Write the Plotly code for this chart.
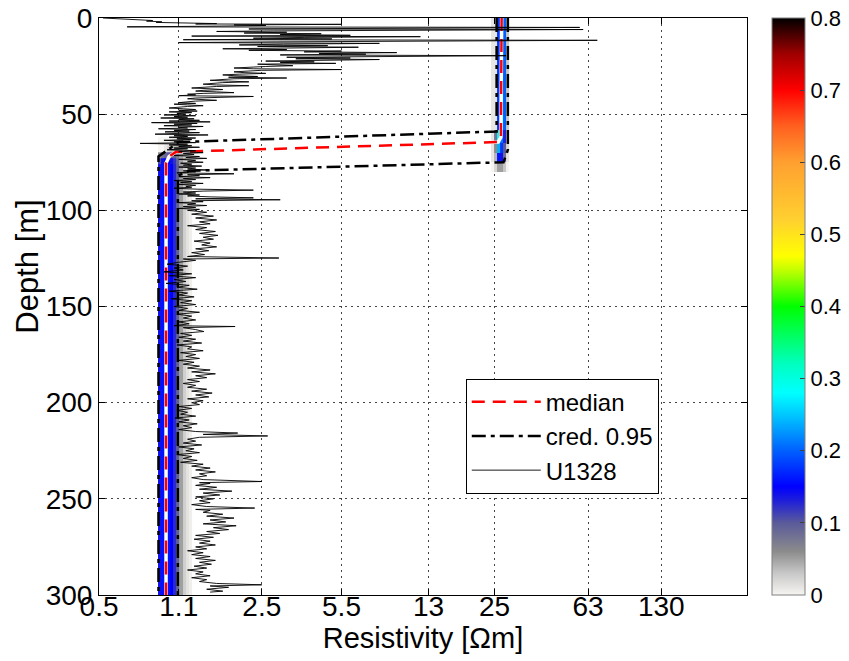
import plotly.graph_objects as go

# ---------------- data ----------------
x_tick_vals = [0.5, 1.1, 2.5, 5.5, 13, 25, 63, 130]
x_tick_text = ["0.5", "1.1", "2.5", "5.5", "13", "25", "63", "130"]
y_tick_vals = [0, 50, 100, 150, 200, 250, 300]
cbar_ticks = [0, 0.1, 0.2, 0.3, 0.4, 0.5, 0.6, 0.7, 0.8]
cbar_text = ["0", "0.1", "0.2", "0.3", "0.4", "0.5", "0.6", "0.7", "0.8"]

# posterior density, upper (resistive) layer band
upper_res_edges = [24.14, 24.87, 25.63, 26.4, 27.2, 28.0, 28.86]
upper_depth_edges = [0, 58, 65, 70, 75, 80]
upper_p_0_58 = [0.01, 0.01, 0.18, 0.28, 0.20, 0.03]
upper_p_58_65 = [0.01, 0.08, 0.28, 0.21, 0.13, 0.02]
upper_p_65_70 = [0.01, 0.06, 0.24, 0.18, 0.10, 0.02]
upper_p_70_75 = [0.01, 0.04, 0.16, 0.14, 0.08, 0.01]
upper_p_75_80 = [0.00, 0.02, 0.05, 0.05, 0.03, 0.00]

# posterior density, lower (conductive) layer band
lower_res_edges = [0.896, 0.925, 0.953, 0.982, 1.012, 1.043, 1.075,
                   1.108, 1.142, 1.177, 1.213, 1.25]
lower_depth_edges = [62, 66, 70, 73, 76, 300]
lower_p_62_66 = [0, 0, 0, 0, 0.005, 0.01, 0.015, 0.02, 0.015, 0.008, 0.003]
lower_p_66_70 = [0, 0, 0.01, 0.02, 0.03, 0.035, 0.04, 0.035, 0.02, 0.01, 0.004]
lower_p_70_73 = [0.06, 0.08, 0.09, 0.10, 0.10, 0.09, 0.07, 0.045, 0.025, 0.012, 0.004]
lower_p_73_76 = [0.11, 0.14, 0.15, 0.15, 0.14, 0.12, 0.09, 0.05, 0.025, 0.012, 0.004]
lower_p_76_300 = [0.14, 0.16, 0.17, 0.16, 0.15, 0.125, 0.095, 0.05, 0.025, 0.012, 0.004]

# median model
median_depth = [0, 58, 62, 64.5, 69.6, 72, 75.4, 300]
median_res = [26.8, 26.8, 26.6, 25.9, 1.07, 1.0, 0.97, 0.97]

# 95% credible bounds
cred_low_depth = [0, 59, 64.5, 72, 300]
cred_low_res = [25.5, 25.5, 1.10, 0.90, 0.90]
cred_high_depth = [0, 68.5, 75, 79.4, 82, 300]
cred_high_res = [28.5, 28.5, 27.3, 1.22, 1.09, 1.09]

# U1328 resistivity log (depth, resistivity) — digitised in segments
log_depth_0_22 = [
    0.0, 0.4, 0.8, 1.0, 1.3, 1.6, 2.0, 2.3, 2.6, 2.9, 3.1, 3.3, 3.6, 3.9, 4.3, 4.6,
    4.9, 5.3, 5.7, 6.0, 6.3, 6.7, 7.0, 7.4, 7.8, 8.2, 8.6, 9.0, 9.4, 9.7, 10.1, 10.5,
    10.9, 11.3, 11.6, 12.0, 12.4, 12.8, 13.2, 13.6, 14.0, 14.4, 14.8, 15.2, 15.6, 16.0,
    16.4, 16.8, 17.2, 17.6, 18.0, 18.4, 18.8, 19.2, 19.6, 20.0, 20.4, 20.8, 21.2, 21.6,
]
log_res_0_22 = [
    0.52, 0.62, 0.78, 0.72, 0.85, 0.80, 0.93, 0.88, 1.25, 1.60, 1.30, 5.5, 1.9, 2.6, 1.4, 0.66,
    58, 3.5, 2.2, 60, 4.0, 2.8, 1.6, 3.2, 2.1, 4.5, 3.0, 6.0, 1.25, 12, 3.8, 2.3,
    5.0, 1.15, 69, 4.2, 2.9, 1.1, 8.0, 3.1, 2.0, 4.8, 2.4, 6.5, 3.3, 1.7,
    3.2, 2.2, 5.5, 3.8, 9.5, 4.4, 7.0, 3.0, 28, 4.6, 3.2, 6.0, 3.5, 8.0,
]
log_depth_22_50 = [
    22.0, 22.4, 22.8, 23.2, 23.6, 24.0, 24.4, 24.8, 25.2, 25.6, 26.0, 26.4, 26.8, 27.2,
    27.6, 28.0, 28.4, 28.8, 29.2, 29.6, 30.0, 30.4, 30.8, 31.2, 31.6, 32.0, 32.4, 32.8,
    33.2, 33.6, 34.0, 34.4, 34.8, 35.2, 35.6, 36.0, 36.4, 36.8, 37.2, 37.6, 38.0, 38.4,
    38.8, 39.2, 39.6, 40.0, 40.4, 40.8, 41.2, 41.6, 42.0, 42.4, 42.8, 43.2, 43.6, 44.0,
    44.4, 44.8, 45.2, 45.6, 46.0, 46.4, 46.8, 47.2, 47.6, 48.0, 48.4, 48.8, 49.2, 49.6,
]
log_res_22_50 = [
    4.0, 2.6, 4.2, 3.0, 5.2, 2.4, 2.9, 3.4, 2.6, 2.0, 1.9, 2.3, 5.5, 2.5,
    2.2, 1.9, 2.1, 2.6, 2.0, 1.7, 1.9, 2.4, 1.8, 3.2, 1.9, 1.6, 1.5, 1.8,
    2.2, 1.7, 1.5, 1.4, 1.6, 2.2, 1.6, 1.3, 1.25, 1.5, 1.7, 1.4, 1.3, 1.6,
    1.9, 1.4, 1.2, 1.3, 1.1, 2.3, 1.5, 1.3, 1.2, 1.35, 1.6, 1.3, 1.15, 1.1,
    1.3, 1.05, 1.2, 1.4, 1.2, 1.05, 1.0, 1.15, 1.3, 1.1, 1.32, 1.0, 1.25, 1.08,
]
log_depth_50_100 = [
    50.0, 50.4, 50.8, 51.2, 51.6, 52.0, 52.4, 52.8, 53.2, 53.6, 54.0, 54.4, 54.8, 55.2,
    55.6, 56.0, 56.4, 56.8, 57.2, 57.6, 58.0, 58.4, 58.8, 59.2, 59.6, 60.0, 60.4, 60.8,
    61.2, 61.6, 62.0, 62.4, 62.8, 63.2, 63.6, 64.0, 64.4, 64.8, 65.2, 65.6, 66.0, 66.4,
    66.8, 67.2, 67.6, 68.0, 68.5, 69.0, 69.5, 70.0, 70.5, 71.0, 71.5, 72.0, 72.5, 73.0,
    73.5, 74.0, 74.5, 75.0, 75.5, 76.0, 76.5, 77.0, 77.5, 78.0, 78.5, 79.0, 79.5, 80.0,
    80.5, 81.0, 81.5, 82.0, 82.5, 83.0, 83.5, 84.0, 84.5, 85.0, 85.5, 86.0, 86.5, 87.0,
    87.5, 88.0, 88.5, 89.0, 89.5, 90.0, 90.5, 91.0, 91.5, 92.0, 92.5, 93.0, 93.5, 94.0,
    94.5, 95.0, 95.5, 96.0, 96.5, 97.0, 97.5, 98.0, 98.5, 99.0, 99.5, 100.0,
]
log_res_50_100 = [
    1.18, 0.95, 1.3, 1.05, 1.2, 0.92, 1.28, 1.1, 1.35, 1.0, 1.5, 0.84, 1.32, 1.05,
    1.25, 0.95, 1.4, 1.1, 1.2, 0.9, 1.3, 1.05, 1.22, 0.96, 1.35, 1.1, 0.87, 1.47,
    1.05, 1.2, 1.0, 1.3, 1.08, 1.25, 0.95, 1.15, 1.05, 1.3, 0.75, 1.2, 1.0, 1.25,
    1.1, 1.35, 1.05, 1.2, 0.98, 1.3, 1.1, 1.4, 1.15, 1.28, 1.05, 1.35, 1.18, 1.45,
    1.1, 1.3, 1.2, 1.4, 1.12, 1.25, 1.15, 1.38, 1.1, 1.3, 1.2, 1.45, 1.15, 1.3,
    1.08, 1.9, 1.2, 1.35, 1.1, 1.5, 1.15, 1.3, 1.05, 1.25, 1.12, 1.4, 1.1, 1.3,
    1.18, 1.25, 1.05, 1.32, 2.3, 1.4, 1.15, 1.3, 1.1, 1.35, 1.2, 1.5, 2.3, 1.3,
    3.0, 1.25, 1.4, 1.1, 1.3, 1.2, 1.45, 1.15, 1.3, 1.1, 1.35, 1.2,
]
log_depth_100_200 = [
    101, 102, 103, 104, 105, 106, 107, 108, 109, 110, 111, 112, 113, 114, 115, 116,
    117, 118, 119, 120, 121, 122, 123, 124, 124.8, 125.3, 126,
    127, 128, 129, 130, 131, 132, 133, 134, 135, 136, 137, 138, 139, 140, 141, 142,
    143, 144, 145, 146, 147, 148, 149, 150, 151, 152, 153, 154, 155, 156, 157, 158,
    159, 160, 160.4, 161, 162, 163, 164, 165,
    166, 167, 168, 169, 170, 171, 172, 173, 174, 175, 176, 177, 178, 179, 180,
    181, 182, 183, 184, 185, 186, 187, 188, 189, 190, 191, 192,
    193, 194, 195, 196, 197, 198, 199, 200, 201,
]
log_res_100_200 = [
    1.45, 1.25, 1.55, 1.3, 1.6, 1.35, 1.5, 1.2, 1.45, 1.3, 1.58, 1.35, 1.62, 1.4, 1.55, 1.28,
    1.5, 1.38, 1.6, 1.3, 1.48, 1.25, 1.42, 1.2, 2.96, 1.15, 1.3,
    1.1, 0.98, 1.2, 1.05, 1.15, 0.95, 1.25, 1.0, 1.3, 1.05, 1.18, 0.97, 1.22, 1.08, 1.32, 1.0,
    1.2, 1.1, 1.28, 1.02, 1.25, 1.12, 1.3, 1.05, 1.2, 1.1, 1.35, 1.08, 1.25, 1.15, 1.3, 1.1,
    1.22, 1.05, 1.92, 1.15, 1.3, 1.41, 1.12, 1.25,
    1.1, 1.3, 1.15, 1.38, 1.08, 1.25, 1.2, 1.4, 1.12, 1.3, 1.18, 1.35, 1.1, 1.28, 1.15,
    1.35, 1.2, 1.5, 1.25, 1.58, 1.3, 1.45, 1.2, 1.35, 1.15, 1.3, 1.2,
    1.45, 1.25, 1.53, 1.3, 1.48, 1.2, 1.4, 1.25, 1.35,
]
log_depth_200_300 = [
    202, 203, 204, 205, 206, 207, 208, 209, 210, 211, 212, 213, 214,
    215, 215.8, 216.5, 217.3, 218, 219,
    220, 221, 222, 223, 224, 225, 226, 227, 228, 229, 230, 231, 232, 233, 234, 235,
    236, 237, 238, 239, 240, 241, 241.6, 242,
    243, 244, 245, 246, 247, 248, 249, 250, 251, 252, 253, 254, 254.8, 255.5, 256,
    257, 258, 259, 260, 261, 262, 263, 264, 265, 266, 267, 268,
    269, 270, 271, 272, 273, 274, 275, 276, 277, 278,
    279, 280, 281, 282, 283, 284, 285, 286, 287, 288, 289, 290, 291, 292, 293, 294,
    294.7, 295.3, 296, 297, 298, 298.5,
]
log_res_200_300 = [
    1.1, 1.25, 1.08, 1.2, 1.12, 1.3, 1.06, 1.22, 1.1, 1.32, 1.15, 1.25, 1.1,
    1.3, 1.97, 1.4, 2.65, 1.35, 1.2,
    1.3, 1.15, 1.38, 1.1, 1.28, 1.18, 1.35, 1.08, 1.25, 1.15, 1.32, 1.12, 1.4, 1.25, 1.5, 1.3,
    1.58, 1.35, 1.45, 1.25, 1.4, 2.5, 1.35, 1.5,
    1.3, 1.6, 1.35, 1.86, 1.4, 1.65, 1.3, 1.55, 1.35, 1.5, 1.25, 1.45, 2.33, 1.3, 1.5,
    1.4, 1.7, 1.45, 1.9, 1.5, 1.75, 1.4, 1.94, 1.55, 1.8, 1.45, 1.65,
    1.3, 1.55, 1.28, 1.5, 1.35, 1.58, 1.3, 1.45, 1.2, 1.4,
    1.25, 1.5, 1.3, 1.58, 1.35, 1.52, 1.28, 1.45, 1.2, 1.4, 1.3, 1.5, 1.25, 1.45, 1.35, 1.6,
    2.5, 1.5, 1.8, 1.45, 1.7, 1.5,
]

log_depth = (log_depth_0_22 + log_depth_22_50 + log_depth_50_100
             + log_depth_100_200 + log_depth_200_300)
log_res = (log_res_0_22 + log_res_22_50 + log_res_50_100
           + log_res_100_200 + log_res_200_300)

# ---------------- figure ----------------
colorscale = [
    [0.0, "#f7f5f2"], [0.0375, "#c8c8c8"], [0.075, "#8c8c8c"], [0.125, "#5a5a9a"],
    [0.1625, "#2020d8"], [0.1875, "#0000ff"], [0.25, "#0060ff"], [0.3125, "#00c8ff"],
    [0.35, "#00ffff"], [0.4, "#00ffc0"], [0.5, "#00ff00"], [0.5625, "#c0ff00"],
    [0.5875, "#ffff00"], [0.65, "#ffd030"], [0.75, "#ffa030"], [0.8125, "#ff6020"],
    [0.875, "#ff0000"], [0.9375, "#a00000"], [1.0, "#000000"],
]

upper_z = [upper_p_0_58, upper_p_58_65, upper_p_65_70, upper_p_70_75, upper_p_75_80]
lower_z = [lower_p_62_66, lower_p_66_70, lower_p_70_73, lower_p_73_76, lower_p_76_300]

fig = go.Figure()
fig.add_trace(go.Heatmap(x=upper_res_edges, y=upper_depth_edges, z=upper_z,
                         coloraxis="coloraxis", hoverinfo="skip", showlegend=False))
fig.add_trace(go.Heatmap(x=lower_res_edges, y=lower_depth_edges, z=lower_z,
                         coloraxis="coloraxis", hoverinfo="skip", showlegend=False))

# white line under median
fig.add_trace(go.Scatter(x=median_res, y=median_depth, mode="lines",
                         line=dict(color="white", width=3.5), showlegend=False,
                         hoverinfo="skip"))
fig.add_trace(go.Scatter(x=median_res, y=median_depth, mode="lines", name="median",
                         line=dict(color="#ff0000", width=2.5, dash="13px,8px")))
fig.add_trace(go.Scatter(x=cred_low_res, y=cred_low_depth, mode="lines", name="cred. 0.95",
                         line=dict(color="black", width=2.5, dash="14px,5px,4px,5px")))
fig.add_trace(go.Scatter(x=cred_high_res, y=cred_high_depth, mode="lines", name="cred. 0.95",
                         showlegend=False,
                         line=dict(color="black", width=2.5, dash="14px,5px,4px,5px")))
fig.add_trace(go.Scatter(x=log_res, y=log_depth, mode="lines", name="U1328",
                         line=dict(color="black", width=0.9)))

grid = dict(showgrid=True, gridcolor="#444444", gridwidth=1, griddash="2px,4px")
fig.update_xaxes(type="log", range=[-0.3012, 2.482], tickvals=x_tick_vals, ticktext=x_tick_text,
                 ticks="inside", ticklen=6, tickcolor="black", mirror="ticks",
                 showline=True, linecolor="black", linewidth=1, zeroline=False,
                 automargin=False, ticklabelstandoff=-14, ticklabeloverflow="allow",
                 title=dict(text="Resistivity [Ωm]", standoff=2,
                            font=dict(size=29, family="Liberation Sans, Arial")),
                 tickfont=dict(size=28, family="Liberation Sans, Arial", color="black"),
                 **grid)
fig.update_yaxes(range=[300, 0], tickvals=y_tick_vals, ticks="inside", ticklen=6,
                 tickcolor="black", mirror="ticks", showline=True, linecolor="black",
                 linewidth=1, zeroline=False, automargin=False, ticklabeloverflow="allow",
                 tickfont=dict(size=28, family="Liberation Sans, Arial", color="black"),
                 **grid)

fig.add_annotation(text="Depth [m]", textangle=-90, xref="paper", yref="paper",
                   x=-0.1096, y=0.569, xanchor="center", yanchor="middle", showarrow=False,
                   font=dict(size=31, family="Liberation Sans, Arial", color="black"))

fig.update_layout(
    width=849, height=661,
    margin=dict(l=99, r=102, t=18, b=66, autoexpand=False),
    plot_bgcolor="white", paper_bgcolor="white",
    font=dict(family="Liberation Sans, Arial", color="black"),
    coloraxis=dict(
        cmin=0, cmax=0.8, colorscale=colorscale,
        colorbar=dict(x=1.0386, xanchor="left", xpad=0, ypad=0, y=0.5, yanchor="middle",
                      len=1.0, thickness=33, outlinecolor="#808080", outlinewidth=1,
                      tickvals=cbar_ticks, ticktext=cbar_text, ticklabeloverflow="allow",
                      ticks="inside", ticklen=5, tickcolor="#404040",
                      tickfont=dict(size=22, family="Liberation Sans, Arial", color="black")),
    ),
    legend=dict(x=0.566, y=0.375, xanchor="left", yanchor="top",
                bordercolor="black", borderwidth=1, bgcolor="white",
                font=dict(size=24, family="Liberation Sans, Arial", color="black"),
                tracegroupgap=0, itemwidth=69),
)

# remove the browser's default 8 px body margin so the 849x661 figure fills the window
fig.write_html("out.html", config={"displayModeBar": False},
               post_script="document.body.style.margin='0';")
